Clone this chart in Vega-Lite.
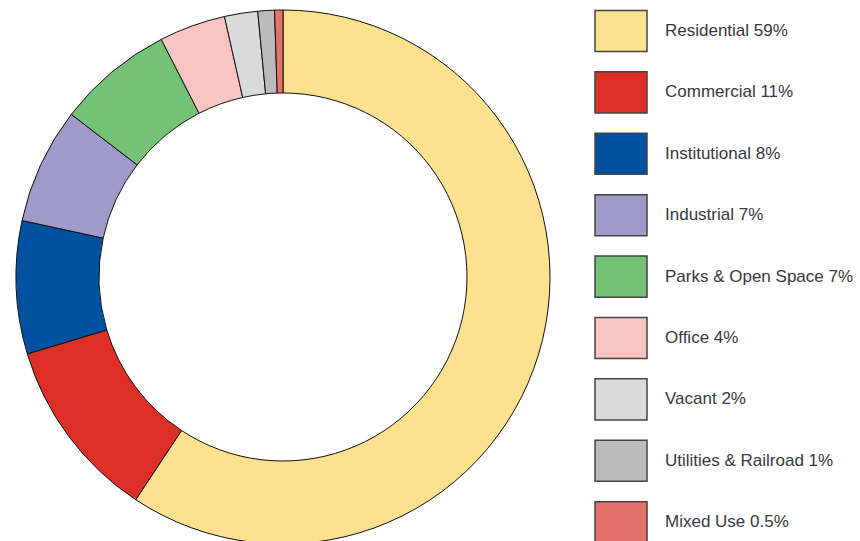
{
  "$schema": "https://vega.github.io/schema/vega-lite/v6.json",
  "width": 566,
  "height": 541,
  "autosize": "none",
  "padding": {"left": 0, "top": 0, "right": 294, "bottom": 0},
  "background": "white",
  "view": {"stroke": null},
  "data": {
    "values": [
      {"label": "Residential 59%", "value": 59, "order": 1},
      {"label": "Commercial 11%", "value": 11, "order": 2},
      {"label": "Institutional 8%", "value": 8, "order": 3},
      {"label": "Industrial 7%", "value": 7, "order": 4},
      {"label": "Parks & Open Space 7%", "value": 7, "order": 5},
      {"label": "Office 4%", "value": 4, "order": 6},
      {"label": "Vacant 2%", "value": 2, "order": 7},
      {"label": "Utilities & Railroad 1%", "value": 1, "order": 8},
      {"label": "Mixed Use 0.5%", "value": 0.5, "order": 9}
    ]
  },
  "mark": {"type": "arc", "outerRadius": 267, "innerRadius": 184, "stroke": "#111111", "strokeWidth": 1, "yOffset": 6.5},
  "encoding": {
    "theta": {"field": "value", "type": "quantitative", "stack": true},
    "order": {"field": "order", "type": "quantitative"},
    "color": {
      "field": "label",
      "type": "nominal",
      "scale": {
        "domain": ["Residential 59%", "Commercial 11%", "Institutional 8%", "Industrial 7%", "Parks & Open Space 7%", "Office 4%", "Vacant 2%", "Utilities & Railroad 1%", "Mixed Use 0.5%"],
        "range": ["#FDE18F", "#DC3027", "#0052A0", "#9E9BC8", "#74C276", "#F9C4C2", "#D9DAD9", "#BCBBBB", "#E5736B"]
      },
      "legend": {
        "title": null,
        "orient": "none",
        "legendX": 594,
        "legendY": 4,
        "padding": 0,
        "symbolType": "M-1,-0.79H1V0.79H-1Z",
        "symbolSize": 2704,
        "symbolStrokeColor": "#444444",
        "symbolStrokeWidth": 1.5,
        "symbolOpacity": 1,
        "rowPadding": 10.4,
        "labelOffset": 17,
        "labelFont": "Liberation Sans",
        "labelFontSize": 17,
        "labelColor": "#363842",
        "labelLimit": 300
      }
    }
  }
}
